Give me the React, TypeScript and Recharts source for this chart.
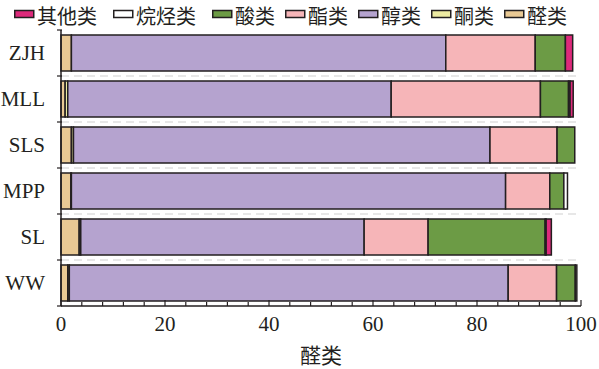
import React from 'react';
import { BarChart, Bar, XAxis, YAxis, CartesianGrid, Label } from 'recharts';

const categories = ['ZJH', 'MLL', 'SLS', 'MPP', 'SL', 'WW'];

// stacked left -> right
const seriesNames = ['醛类', '酮类', '醇类', '酯类', '酸类', '烷烃类', '其他类'];
const seriesColors = ['#E9C994', '#ECEAA2', '#B5A3CF', '#F6B5B8', '#6C9B45', '#FFFFFF', '#DD2A7B'];

const aldehydes = [2.0, 0.8, 2.0, 1.9, 3.5, 1.3];
const ketones = [0, 0.5, 0.4, 0.1, 0.3, 0.3];
const alcohols = [72.0, 62.2, 80.1, 83.5, 54.5, 84.4];
const esters = [17.2, 28.7, 12.9, 8.5, 12.3, 9.3];
const acids = [5.8, 5.4, 3.4, 2.7, 22.5, 3.6];
const alkanes = [0, 0.3, 0, 0.7, 0.2, 0.3];
const others = [1.4, 0.6, 0, 0, 1.0, 0];

const xTicks = [0, 4, 8, 12, 16, 20, 24, 28, 32, 36, 40, 44, 48, 52, 56, 60, 64, 68, 72, 76, 80, 84, 88, 92, 96, 100];

const seriesValues = [aldehydes, ketones, alcohols, esters, acids, alkanes, others];

const data = categories.map((name, i) => {
  const row: Record<string, string | number> = { name };
  seriesNames.forEach((s, k) => {
    row[s] = seriesValues[k][i];
  });
  return row;
});

const FONT = "'Liberation Serif', 'Noto Sans CJK SC', serif";
const CJK = "'Noto Sans CJK SC', sans-serif";
const INK = '#231f20';
const Y_LABEL_GAP = 16;

function XTick({ x, y, payload }: any) {
  const major = payload.value % 20 === 0;
  return (
    <g>
      <line x1={x} x2={x} y1={y} y2={y - (major ? 6 : 4)} stroke={INK} strokeWidth={1.2} />
      {major && (
        <text x={x} y={y + 25} textAnchor="middle" fontSize={21} fill={INK} fontFamily={FONT}>
          {payload.value}
        </text>
      )}
    </g>
  );
}

// category label plus small ticks at the band edges
function YTick({ x, y, payload, index, visibleTicksCount }: any) {
  const ax = x + Y_LABEL_GAP;
  const half = payload.offset || 0;
  const last = index === visibleTicksCount - 1;
  return (
    <g>
      <line x1={ax - 4} x2={ax + 1} y1={y - half} y2={y - half} stroke={INK} strokeWidth={1.2} />
      {last && <line x1={ax - 4} x2={ax + 1} y1={y + half} y2={y + half} stroke={INK} strokeWidth={1.2} />}
      <text x={x} y={y} dy="0.35em" textAnchor="end" fontSize={21} fill={INK} fontFamily={FONT}>
        {payload.value}
      </text>
    </g>
  );
}

// dashed lines at the category boundaries
function boundaryLines({ offset }: any) {
  const n = categories.length;
  return categories.slice(1).map((_, i) => offset.top + ((i + 1) * offset.height) / n);
}

function TopLegend() {
  const order = [...seriesNames.keys()].reverse();
  let cursor = 14;
  const items = order.map((k) => {
    const name = seriesNames[k];
    const x0 = cursor;
    cursor += name.length > 2 ? 99 : 73;
    return (
      <g key={name}>
        <rect x={x0 + 0.75} y={10.5} width={19} height={7} fill={seriesColors[k]} stroke={INK} strokeWidth={1.5} />
        <text x={x0 + 23} y={23.5} fontSize={20} fill={INK} fontFamily={CJK}>
          {name}
        </text>
      </g>
    );
  });
  return (
    <svg width={599} height={30} style={{ position: 'absolute', left: 0, top: 0 }}>
      {items}
    </svg>
  );
}

export default function App() {
  return (
    <div style={{ position: 'absolute', left: 0, top: 0, width: 599, height: 369, background: '#fff' }}>
      <BarChart
        width={599}
        height={369}
        data={data}
        layout="vertical"
        margin={{ top: 30, right: 18, bottom: 0, left: 0 }}
      >
        <CartesianGrid
          vertical={false}
          horizontalCoordinatesGenerator={boundaryLines}
          stroke="#cfcfcf"
          strokeDasharray="8 5"
        />
        <YAxis
          type="category"
          dataKey="name"
          width={61}
          axisLine={{ stroke: INK, strokeWidth: 1.5 }}
          tickLine={false}
          tickSize={0}
          tickMargin={Y_LABEL_GAP}
          tick={<YTick />}
        />
        <XAxis
          type="number"
          domain={[0, 100]}
          ticks={xTicks}
          interval={0}
          height={63}
          axisLine={{ stroke: INK, strokeWidth: 1.5 }}
          tickLine={false}
          tickSize={0}
          tickMargin={0}
          tick={<XTick />}
        >
          <Label value="醛类" position="insideBottom" offset={6} fontSize={21} fill={INK} fontFamily={CJK} />
        </XAxis>
        {seriesNames.map((s, k) => (
          <Bar
            key={s}
            dataKey={s}
            stackId="a"
            fill={seriesColors[k]}
            stroke={INK}
            strokeWidth={1.5}
            barSize={36}
            isAnimationActive={false}
          />
        ))}
      </BarChart>
      <TopLegend />
    </div>
  );
}
